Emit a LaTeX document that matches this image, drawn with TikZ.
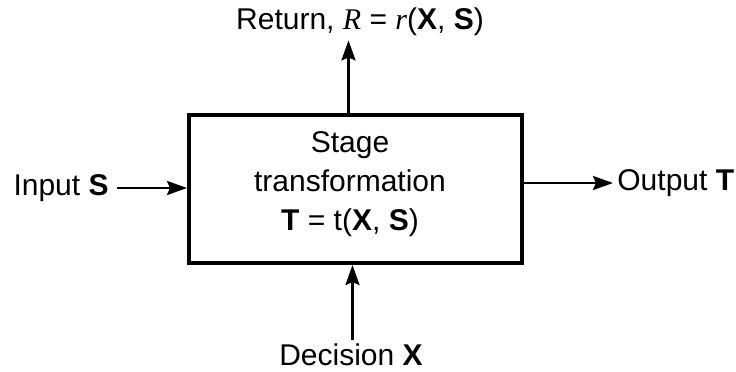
\documentclass[tikz,border=0pt]{standalone}
\usepackage{fontspec}
\setmainfont{Liberation Sans}
\newfontfamily\serifit{Liberation Serif}[ItalicFont=* Italic]
\usetikzlibrary{arrows.meta,calc}
\begin{document}
\begin{tikzpicture}[x=0.5pt,y=-0.5pt,
  lbl/.style={font=\fontsize{15}{18}\selectfont, inner sep=2pt},
  arr/.style={line width=1.4pt, -{Stealth[length=10pt,width=7pt,inset=1.5pt]}},
  stagebox/.style={draw, line width=2pt, minimum width=166.5pt, minimum height=74pt, inner sep=0pt}]
\useasboundingbox (0,0) rectangle (736,371);
\fill[white] (0,0) rectangle (736,371);
\node[stagebox] (box) at (355.5,189) {};
\node[lbl, align=center] (txt) at (350,184) {Stage\\[1.5pt] transformation\\[1.5pt] \textbf{T} = t(\textbf{X}, \textbf{S})};
\node[lbl, anchor=east] (input) at (113,188) {Input \textbf{S}};
\node[lbl, anchor=west] (output) at (613,183) {Output \textbf{T}};
\node[lbl] (ret) at (360,22) {Return, {\serifit\itshape R} = {\serifit\itshape r}(\textbf{X}, \textbf{S})};
\node[lbl] (dec) at (351,355) {Decision \textbf{X}};
\draw[arr] (input.east) ++(4,0) -- (input -| box.west);
\draw[arr] (output -| box.east) -- (output.west);
\draw[arr] ([xshift=-3.5]box.north) -- ([xshift=-3.5]box.north |- ret.south);
\draw[arr] ([xshift=-1.5]box.south |- dec.north) -- ([xshift=-1.5]box.south);
\end{tikzpicture}
\end{document}
